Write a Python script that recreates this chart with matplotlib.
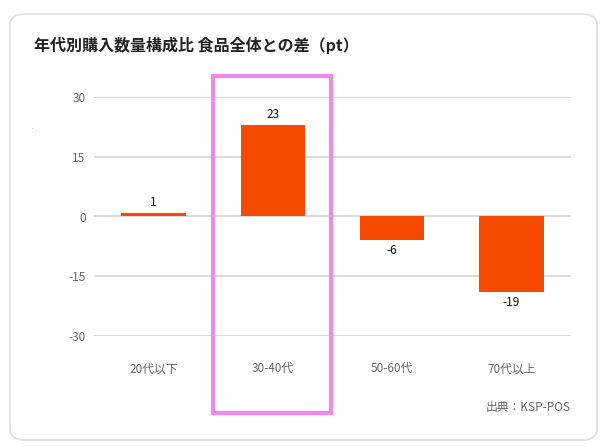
import matplotlib.pyplot as plt
from matplotlib.patches import FancyBboxPatch, Rectangle

plt.rcParams['font.family'] = ['Noto Sans CJK JP', 'DejaVu Sans']

categories = ['20代以下', '30-40代', '50-60代', '70代以上']
values = [1, 23, -6, -19]
yticks = [-30, -15, 0, 15, 30]

fig = plt.figure(figsize=(6.1, 4.48), dpi=100)

# card background (behind the axes)
card = FancyBboxPatch((10 / 610, 8 / 448), 587 / 610, 426 / 448,
                      boxstyle='round,pad=0,rounding_size=0.025',
                      transform=fig.transFigure, facecolor='white',
                      edgecolor='#dddddd', linewidth=1.2, zorder=-10)
fig.patches.append(card)

ax = fig.add_axes([94 / 610, 112 / 448, 477 / 610, 239 / 448])
ax.set_facecolor('none')
x = range(len(categories))
ax.bar(x, values, width=0.54, color='#f54a00', zorder=3)

for xi, v in zip(x, values):
    if v >= 0:
        ax.text(xi, v + 1, str(v), ha='center', va='bottom', fontsize=8.5, color='#111111')
    else:
        ax.text(xi, v - 1, str(v), ha='center', va='top', fontsize=8.5, color='#111111')

ax.set_xlim(-0.5, 3.5)
ax.set_ylim(-30, 30)
ax.set_yticks(yticks)
ax.set_yticklabels([str(t) for t in yticks])
ax.set_xticks(list(x))
ax.set_xticklabels(categories)
ax.tick_params(axis='both', length=0, labelsize=8.5, colors='#666666')
ax.tick_params(axis='y', pad=6)
ax.tick_params(axis='x', pad=19)
ax.grid(axis='y', color='#d4d4d4', linewidth=1.2, zorder=0)
for s in ax.spines.values():
    s.set_visible(False)

# highlight box around 30-40代
ax.add_patch(Rectangle((0.5, -49.25), 0.99, 84.5, fill=False,
                       edgecolor='#ee88ee', linewidth=3, clip_on=False, zorder=5))

fig.text(34 / 610, 1 - 45 / 448, '年代別購入数量構成比 食品全体との差（pt）',
         fontsize=11.5, fontweight='bold', color='#222222', va='center')
fig.text(571 / 610, 1 - 407 / 448, '出典：KSP-POS', fontsize=8.5,
         color='#666666', ha='right', va='center')
fig.text(32 / 610, 1 - 130 / 448, '·', fontsize=6, color='#e08080',
         ha='center', va='center')

fig.savefig('out.png', dpi=100)
